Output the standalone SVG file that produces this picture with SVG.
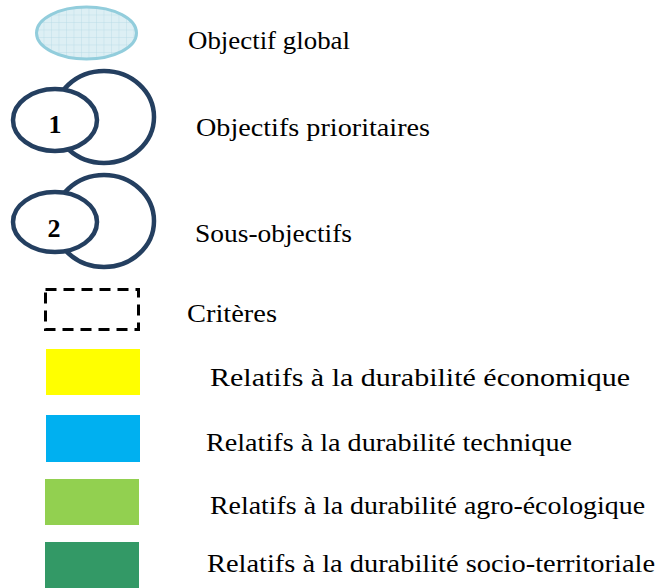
<svg xmlns="http://www.w3.org/2000/svg" width="658" height="588" viewBox="0 0 658 588">
<style>
.lbl{font-family:"Liberation Serif","DejaVu Serif",serif;font-size:25px;fill:#000}
.num{font-family:"Liberation Serif","DejaVu Serif",serif;font-size:26px;font-weight:bold;fill:#000;text-anchor:middle}
.ring{fill:#fff;stroke:#243F60;stroke-width:4.5}
.sw{stroke:none}
</style>
<defs>
<pattern id="grid" width="7.5" height="7.5" patternUnits="userSpaceOnUse" x="36" y="7">
<rect width="7.5" height="7.5" fill="#DDEFF4"/>
<path d="M0 0H7.5M0 0V7.5" stroke="#B5DAE6" stroke-width="0.8" fill="none"/>
</pattern>
</defs>
<rect width="658" height="588" fill="#fff"/>
<g id="objectif-global">
<ellipse cx="86.5" cy="33" rx="50" ry="26" fill="url(#grid)" stroke="#92CDDC" stroke-width="3"/>
<text class="lbl" x="188" y="49" textLength="162" lengthAdjust="spacingAndGlyphs">Objectif global</text>
</g>
<g id="objectifs-prioritaires">
<ellipse class="ring" cx="104" cy="117" rx="50" ry="46"/>
<ellipse class="ring" cx="55" cy="120" rx="42" ry="31"/>
<text class="num" x="55" y="133">1</text>
<text class="lbl" x="196" y="136" textLength="234" lengthAdjust="spacingAndGlyphs">Objectifs prioritaires</text>
</g>
<g id="sous-objectifs">
<ellipse class="ring" cx="104" cy="221" rx="50" ry="46"/>
<ellipse class="ring" cx="55" cy="222" rx="42" ry="30"/>
<text class="num" x="54" y="237">2</text>
<text class="lbl" x="195" y="242" textLength="157" lengthAdjust="spacingAndGlyphs">Sous-objectifs</text>
</g>
<g id="criteres">
<rect x="45.5" y="289.5" width="93" height="40" fill="none" stroke="#000" stroke-width="3" stroke-dasharray="11 7"/>
<text class="lbl" x="187" y="322" textLength="90" lengthAdjust="spacingAndGlyphs">Critères</text>
</g>
<g id="economique">
<rect class="sw" x="46" y="349" width="94" height="46" fill="#FFFF00"/>
<text class="lbl" x="210" y="386" textLength="420" lengthAdjust="spacingAndGlyphs">Relatifs à la durabilité économique</text>
</g>
<g id="technique">
<rect class="sw" x="46" y="415" width="94" height="47" fill="#00B0F0"/>
<text class="lbl" x="206" y="451" textLength="366" lengthAdjust="spacingAndGlyphs">Relatifs à la durabilité technique</text>
</g>
<g id="agro-ecologique">
<rect class="sw" x="45" y="479" width="94" height="46" fill="#92D050"/>
<text class="lbl" x="210" y="514" textLength="435" lengthAdjust="spacingAndGlyphs">Relatifs à la durabilité agro-écologique</text>
</g>
<g id="socio-territoriale">
<rect class="sw" x="45" y="542" width="94" height="46" fill="#339966"/>
<text class="lbl" x="207" y="572" textLength="448" lengthAdjust="spacingAndGlyphs">Relatifs à la durabilité socio-territoriale</text>
</g>
<g id="connectors"/>
</svg>
